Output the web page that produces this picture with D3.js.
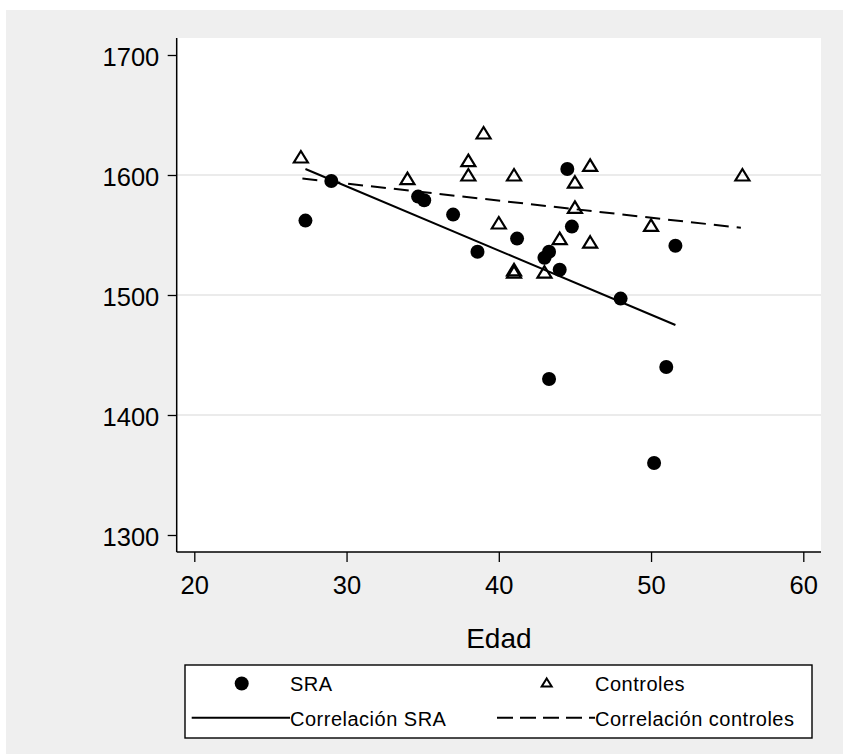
<!DOCTYPE html>
<html>
<head>
<meta charset="utf-8">
<script src="https://cdn.jsdelivr.net/npm/d3@7"></script>
<style>
  body { margin: 0; background: #ffffff; }
  svg text { font-family: "Liberation Sans", Arial, sans-serif; fill: #000; }
</style>
</head>
<body>
<div id="viz"></div>
<script>
// SRA (circulos)
let sraEdad  = [27.3, 29.0, 34.7, 35.1, 37.0, 38.6, 41.2, 43.0, 43.3, 44.0, 44.5, 44.8, 48.0, 51.6, 43.3, 51.0, 50.2];
let sraValor = [1562, 1595, 1582, 1579, 1567, 1536, 1547, 1531, 1536, 1521, 1605, 1557, 1497, 1541, 1430, 1440, 1360];

// Controles (triangulos)
let ctrlEdad  = [27, 34, 39, 38, 38, 41, 46, 45, 45, 40, 44, 46, 41, 41, 43, 50, 56];
let ctrlValor = [1615, 1597, 1635, 1612, 1600, 1600, 1608, 1594, 1573, 1560, 1547, 1544, 1521, 1519, 1519, 1558, 1600];

// rectas de correlacion (extremos)
let sraFitEdad   = [27.3, 51.6];
let sraFitValor  = [1605, 1475];
let ctrlFitEdad  = [27.1, 55.9];
let ctrlFitValor = [1597, 1556];

let xTicks = [20, 30, 40, 50, 60];
let yTicks = [1300, 1400, 1500, 1600, 1700];
let yGrid  = [1400, 1500, 1600];

let width = 843, height = 754;
let plotLeft = 176.7, plotRight = 821, plotTop = 38, plotBottom = 552;

var svg = d3.select("#viz")
            .append("svg")
            .attr("width", width)
            .attr("height", height);

// background
svg.append("rect")
   .attr("x", 6).attr("y", 10)
   .attr("width", width - 6).attr("height", height - 10)
   .attr("fill", "#efefef");

svg.append("rect")
   .attr("x", plotLeft).attr("y", plotTop)
   .attr("width", plotRight - plotLeft).attr("height", plotBottom - plotTop)
   .attr("fill", "#ffffff");

// scales
let x = d3.scaleLinear()
          .domain([20, 60])
          .range([194.3, 803.3]);

let y = d3.scaleLinear()
          .domain([1300, 1700])
          .range([535, 55]);

// GRID
svg.append("g")
   .selectAll("line")
   .data(yGrid)
   .enter().append("line")
   .attr("x1", plotLeft).attr("x2", plotRight)
   .attr("y1", d => y(d)).attr("y2", d => y(d))
   .attr("stroke", "#e4e4e4")
   .attr("stroke-width", 1.6);

// AXES
let yAxis = svg.append("g")
   .attr("transform", "translate(" + plotLeft + ",0)")
   .call(d3.axisLeft(y).tickValues(yTicks).tickFormat(d3.format("d")).tickSize(9).tickPadding(8.4));
yAxis.select(".domain").remove();
yAxis.selectAll("line").attr("stroke", "#000").attr("stroke-width", 1.3);
yAxis.selectAll("text").attr("font-size", "25.5px").attr("dy", "0.43em")
     .style("font-family", "'Liberation Sans', Arial, sans-serif");

let xAxis = svg.append("g")
   .attr("transform", "translate(0," + plotBottom + ")")
   .call(d3.axisBottom(x).tickValues(xTicks).tickSize(10).tickPadding(13.5));
xAxis.select(".domain").remove();
xAxis.selectAll("line").attr("stroke", "#000").attr("stroke-width", 1.3);
xAxis.selectAll("text").attr("font-size", "25.5px")
     .style("font-family", "'Liberation Sans', Arial, sans-serif");

svg.append("line")
   .attr("x1", plotLeft).attr("x2", plotLeft)
   .attr("y1", plotTop).attr("y2", plotBottom)
   .attr("stroke", "#000").attr("stroke-width", 1.5);

svg.append("line")
   .attr("x1", plotLeft).attr("x2", plotRight)
   .attr("y1", plotBottom).attr("y2", plotBottom)
   .attr("stroke", "#000").attr("stroke-width", 1.5);

svg.append("text")
   .attr("x", (plotLeft + plotRight) / 2)
   .attr("y", 648)
   .attr("text-anchor", "middle")
   .attr("font-size", "28px")
   .text("Edad");

// FIT LINES
let line = d3.line().x(d => x(d[0])).y(d => y(d[1]));

svg.append("path")
   .datum(d3.zip(sraFitEdad, sraFitValor))
   .attr("d", line)
   .attr("fill", "none")
   .attr("stroke", "#000")
   .attr("stroke-width", 2);

svg.append("path")
   .datum(d3.zip(ctrlFitEdad, ctrlFitValor))
   .attr("d", line)
   .attr("fill", "none")
   .attr("stroke", "#000")
   .attr("stroke-width", 2)
   .attr("stroke-dasharray", "15,8");

// POINTS
let triangle = "M0,-6L7,5.5L-7,5.5Z";

svg.append("g")
   .selectAll("path")
   .data(d3.zip(ctrlEdad, ctrlValor))
   .enter().append("path")
   .attr("d", triangle)
   .attr("transform", d => "translate(" + x(d[0]) + "," + y(d[1]) + ")")
   .attr("fill", "none")
   .attr("stroke", "#000")
   .attr("stroke-width", 2.2);

svg.append("g")
   .selectAll("circle")
   .data(d3.zip(sraEdad, sraValor))
   .enter().append("circle")
   .attr("cx", d => x(d[0]))
   .attr("cy", d => y(d[1]))
   .attr("r", 7)
   .attr("fill", "#000");

// LEGEND
let legend = svg.append("g");

legend.append("rect")
      .attr("x", 185).attr("y", 665)
      .attr("width", 627).attr("height", 73)
      .attr("fill", "#fff")
      .attr("stroke", "#000")
      .attr("stroke-width", 1.4);

legend.append("circle")
      .attr("cx", 241.7).attr("cy", 683.5).attr("r", 7)
      .attr("fill", "#000");

legend.append("path")
      .attr("d", "M0,-4L5,4L-5,4Z")
      .attr("transform", "translate(546.7,682.5)")
      .attr("fill", "none").attr("stroke", "#000").attr("stroke-width", 2);

legend.append("line")
      .attr("x1", 191.7).attr("x2", 290).attr("y1", 717.7).attr("y2", 717.7)
      .attr("stroke", "#000").attr("stroke-width", 2);

legend.append("line")
      .attr("x1", 497).attr("x2", 595).attr("y1", 717.7).attr("y2", 717.7)
      .attr("stroke", "#000").attr("stroke-width", 2)
      .attr("stroke-dasharray", "16,7");

let labels = [["SRA", 290, 691], ["Controles", 595, 691],
              ["Correlación SRA", 290, 726], ["Correlación controles", 595, 726]];

legend.selectAll("text.lab")
      .data(labels)
      .enter().append("text")
      .attr("class", "lab")
      .attr("x", d => d[1])
      .attr("y", d => d[2])
      .attr("font-size", "20px")
      .attr("letter-spacing", "0.5px")
      .text(d => d[0]);
</script>
</body>
</html>
